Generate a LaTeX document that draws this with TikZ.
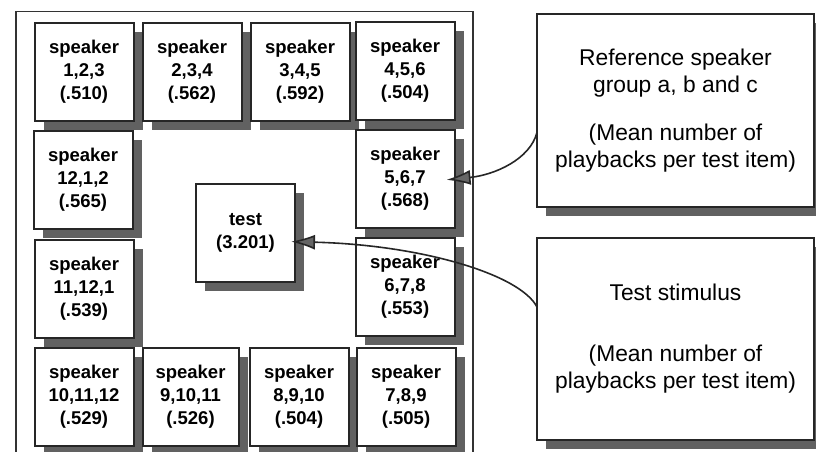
\documentclass[tikz,border=0pt]{standalone}
\usepackage{fontspec}
\setmainfont{Liberation Sans}
\usetikzlibrary{arrows.meta,shadows}

\begin{document}
\begin{tikzpicture}[x=1pt,y=-1pt,
  spk/.style={draw=black!85,line width=2pt,fill=white,inner sep=0pt,outer sep=0pt,
    minimum width=99pt,minimum height=98pt,align=center,
    font=\fontsize{18.5}{23}\selectfont\bfseries,
    general shadow={fill=black!62,shadow xshift=9pt,shadow yshift=-9pt}},
  legend/.style={spk,font=\fontsize{22.8}{27}\selectfont,minimum width=277pt},
  arr/.style={line width=1.6pt,draw=black!85,-{Latex[length=24pt,width=15pt,fill=black!60]}}]
\useasboundingbox (0,0) rectangle (816,451);

\draw[line width=1.8pt,black!80] (16,465) -- (16,11.5) -- (473,11.5) -- (473,465);%le cadre

\node[spk] (spk123) at (84,72) {speaker\\1,2,3\\(.510)};
\node[spk] (spk234) at (192,72) {speaker\\2,3,4\\(.562)};
\node[spk] (spk345) at (300,72) {speaker\\3,4,5\\(.592)};
\node[spk] (spk456) at (405,71) {speaker\\4,5,6\\(.504)};

\node[spk] (spk1212) at (83,180) {speaker\\12,1,2\\(.565)};
\node[spk] (spk567) at (405,179) {speaker\\5,6,7\\(.568)};

\node[spk] (spk11121) at (84,289) {speaker\\11,12,1\\(.539)};
\node[spk] (spk678) at (405,287) {speaker\\6,7,8\\(.553)};

\node[spk] (spk101112) at (84,397) {speaker\\10,11,12\\(.529)};
\node[spk,minimum width=96pt] (spk91011) at (190.5,397) {speaker\\9,10,11\\(.526)};
\node[spk] (spk8910) at (299,397) {speaker\\8,9,10\\(.504)};
\node[spk] (spk789) at (406,397) {speaker\\7,8,9\\(.505)};

\node[spk] (test) at (245.5,233) {test\\(3.201)};%le stimulus

\node[legend,minimum height=193pt] (refbox) at (675.5,110.5)
  {Reference speaker\\group a, b and c\\[21pt](Mean number of\\playbacks per test item)};
\node[legend,minimum height=202pt] (stimbox) at (675.5,339)
  {Test stimulus\\[34pt](Mean number of\\playbacks per test item)};

\draw[arr,shorten >=-8pt] (refbox.189) .. controls +(-7,27) and +(40,-4) .. (spk567.east);%les fleches
\draw[arr,shorten >=-4pt] (stimbox.167) .. controls +(-17,-33) and +(125,3) .. (test.-10);

\end{tikzpicture}
\end{document}
